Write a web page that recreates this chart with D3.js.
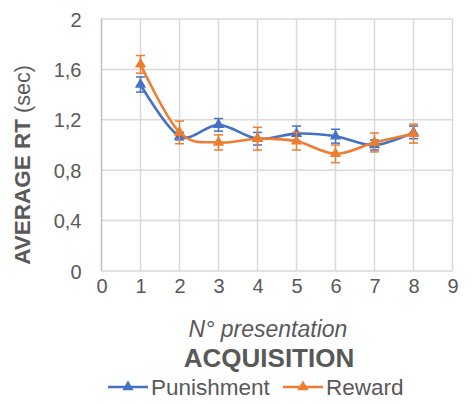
<!DOCTYPE html>
<html><head><meta charset="utf-8">
<script src="https://cdn.jsdelivr.net/npm/d3@7"></script>
<style>body{margin:0;background:#fff;}svg{display:block;font-family:"Liberation Sans",Arial,sans-serif;}</style>
</head><body>
<svg id="c" width="475" height="404"></svg>
<script>
const presentations = [1, 2, 3, 4, 5, 6, 7, 8];
const punishment = [1.48, 1.07, 1.16, 1.05, 1.09, 1.07, 1.00, 1.10];
const punishmentErr = [0.06, 0.03, 0.05, 0.05, 0.06, 0.055, 0.04, 0.05];
const reward = [1.64, 1.10, 1.02, 1.05, 1.03, 0.93, 1.02, 1.09];
const rewardErr = [0.07, 0.09, 0.06, 0.09, 0.07, 0.07, 0.075, 0.075];
const xTicks = [0, 1, 2, 3, 4, 5, 6, 7, 8, 9];
const yTicks = [0, 0.4, 0.8, 1.2, 1.6, 2];
const seriesNames = ["Punishment", "Reward"];
const seriesColors = ["#4472C4", "#ED7D31"];

const svg = d3.select("#c");
const x = d3.scaleLinear().domain([0, 9]).range([101.5, 452.5]);
const y = d3.scaleLinear().domain([0, 2]).range([271, 19]);
const grid = "#d9d9d9", txt = "#595959";

// gridlines
svg.append("g").selectAll("line").data(yTicks).join("line")
  .attr("x1", x(0)).attr("x2", x(9)).attr("y1", d => y(d)).attr("y2", d => y(d))
  .attr("stroke", grid).attr("stroke-width", 1.5);
svg.append("g").selectAll("line").data(xTicks).join("line")
  .attr("y1", y(0)).attr("y2", y(2)).attr("x1", d => x(d)).attr("x2", d => x(d))
  .attr("stroke", d => d === 0 ? "#bfbfbf" : grid).attr("stroke-width", 1.5);

// axes labels
const yAxis = d3.axisLeft(y).tickValues(yTicks).tickSize(0).tickPadding(20)
  .tickFormat(d => d === 0 || d === 2 ? String(d) : d3.format(".1f")(d).replace(".", ","));
const gy = svg.append("g").attr("transform", `translate(${x(0)},0)`).call(yAxis);
gy.select(".domain").remove();
gy.selectAll("text").attr("fill", txt).attr("font-size", 20).attr("dy", "0.35em");

const xAxis = d3.axisBottom(x).tickValues(xTicks).tickSize(0).tickPadding(22).tickFormat(d3.format("d"));
const gx = svg.append("g").attr("transform", `translate(0,${y(0)})`).call(xAxis);
gx.select(".domain").remove();
gx.selectAll("text").attr("fill", txt).attr("font-size", 20).attr("dy", "0");

// series
const series = [
  {name: seriesNames[0], vals: punishment, err: punishmentErr, color: seriesColors[0]},
  {name: seriesNames[1], vals: reward, err: rewardErr, color: seriesColors[1]}
];
const line = d3.line().x((d, i) => x(presentations[i])).y(d => y(d)).curve(d3.curveCatmullRom.alpha(0));
const tri = d3.symbol().type(d3.symbolTriangle).size(55);

series.forEach(s => {
  const g = svg.append("g");
  g.append("path").attr("d", line(s.vals)).attr("fill", "none")
    .attr("stroke", s.color).attr("stroke-width", 2.6).attr("stroke-linecap", "round");
  const eb = g.append("g").attr("stroke", s.color).attr("stroke-width", 1.5);
  s.vals.forEach((v, i) => {
    const cx = x(presentations[i]), lo = y(v - s.err[i]), hi = y(v + s.err[i]);
    eb.append("line").attr("x1", cx).attr("x2", cx).attr("y1", lo).attr("y2", hi);
    eb.append("line").attr("x1", cx - 4.5).attr("x2", cx + 4.5).attr("y1", lo).attr("y2", lo);
    eb.append("line").attr("x1", cx - 4.5).attr("x2", cx + 4.5).attr("y1", hi).attr("y2", hi);
  });
  g.selectAll(".m").data(s.vals).join("path")
    .attr("transform", (d, i) => `translate(${x(presentations[i])},${y(d)})`)
    .attr("d", tri).attr("fill", s.color);
});

// titles
const yt = svg.append("text").attr("transform", "translate(30,165) rotate(-90)")
  .attr("text-anchor", "middle").attr("fill", txt);
yt.append("tspan").attr("font-weight", "bold").attr("font-size", 22.5).text("AVERAGE RT");
yt.append("tspan").attr("font-size", 21.5).text(" (sec)");

svg.append("text").attr("x", 268).attr("y", 336.5).attr("text-anchor", "middle")
  .attr("fill", txt).attr("font-style", "italic").attr("font-size", 23).text("N° presentation");
svg.append("text").attr("x", 269).attr("y", 366.5).attr("text-anchor", "middle")
  .attr("fill", txt).attr("font-weight", "bold").attr("font-size", 26).text("ACQUISITION");

// legend
const legX = [108, 283];
series.forEach((s, i) => {
  const lg = svg.append("g").attr("transform", `translate(${legX[i]},387)`);
  lg.append("line").attr("x1", 0).attr("x2", 40).attr("stroke", s.color).attr("stroke-width", 2.6);
  lg.append("path").attr("d", tri).attr("fill", s.color).attr("transform", "translate(20,0)");
  lg.append("text").attr("x", 43).attr("y", 8).attr("fill", txt).attr("font-size", 22.5).text(s.name);
});
</script>
</body></html>
